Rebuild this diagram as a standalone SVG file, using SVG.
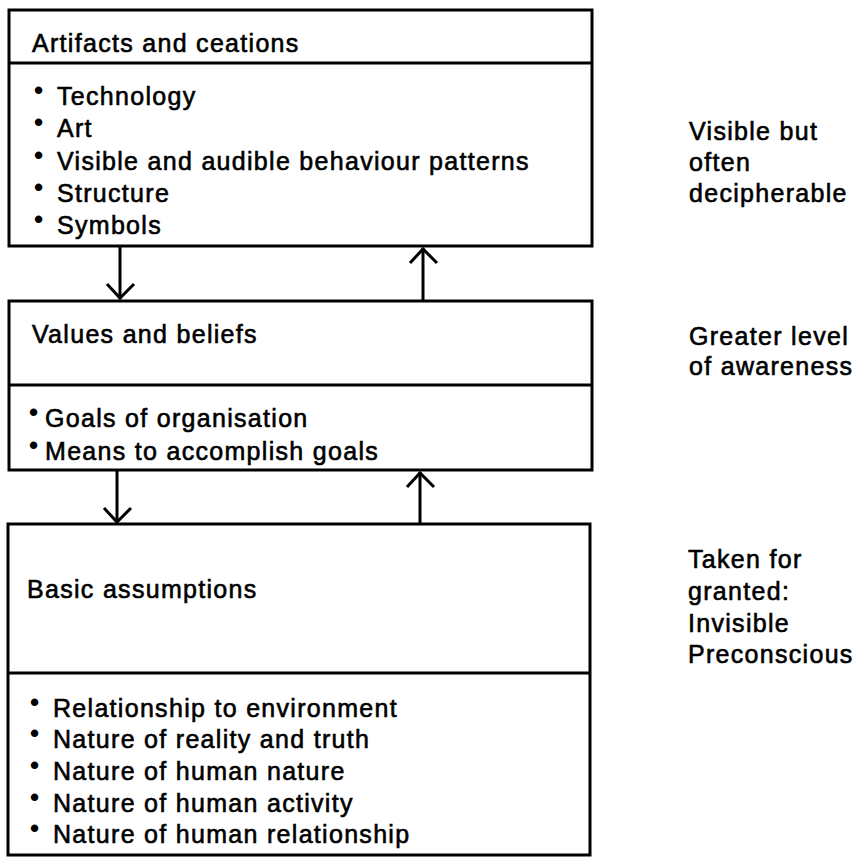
<svg xmlns="http://www.w3.org/2000/svg" width="854" height="858" viewBox="0 0 854 858">
  <style>
    .box { fill: none; stroke: #000; stroke-width: 3; }
    .div { stroke: #000; stroke-width: 3; }
    .t { font-family: "Liberation Sans", Arial, sans-serif; font-size: 25px; letter-spacing: 1.3px; fill: #000; stroke: #000; stroke-width: 0.6px; }
    .b { font-family: "Liberation Sans", Arial, sans-serif; font-size: 26px; font-weight: bold; fill: #000; }
    .wire { fill: none; stroke: #000; stroke-width: 3; }
  </style>
  <rect width="854" height="858" fill="#fff"/>

  <g id="artifacts">
    <rect class="box" x="9" y="10" width="583" height="236"/>
    <line class="div" x1="9" y1="63" x2="592" y2="63"/>
    <text class="t" x="32" y="52">Artifacts and ceations</text>
    <text class="b" x="34" y="99">•</text>
    <text class="b" x="34" y="131">•</text>
    <text class="b" x="34" y="164">•</text>
    <text class="b" x="34" y="196">•</text>
    <text class="b" x="34" y="228">•</text>
    <text class="t" x="57" y="105">Technology</text>
    <text class="t" x="57" y="137">Art</text>
    <text class="t" x="57" y="170">Visible and audible behaviour patterns</text>
    <text class="t" x="57" y="202">Structure</text>
    <text class="t" x="57" y="234">Symbols</text>
  </g>

  <g id="values">
    <rect class="box" x="9" y="301" width="583" height="169"/>
    <line class="div" x1="9" y1="385" x2="592" y2="385"/>
    <text class="t" x="32" y="343">Values and beliefs</text>
    <text class="b" x="29" y="421">•</text>
    <text class="b" x="29" y="454">•</text>
    <text class="t" x="45" y="427">Goals of organisation</text>
    <text class="t" x="45" y="460">Means to accomplish goals</text>
  </g>

  <g id="assumptions">
    <rect class="box" x="8" y="524" width="582" height="331"/>
    <line class="div" x1="8" y1="673" x2="590" y2="673"/>
    <text class="t" x="27" y="598">Basic assumptions</text>
    <text class="b" x="30" y="711">•</text>
    <text class="b" x="30" y="742">•</text>
    <text class="b" x="30" y="774">•</text>
    <text class="b" x="30" y="806">•</text>
    <text class="b" x="30" y="837">•</text>
    <text class="t" x="53" y="717">Relationship to environment</text>
    <text class="t" x="53" y="748">Nature of reality and truth</text>
    <text class="t" x="53" y="780">Nature of human nature</text>
    <text class="t" x="53" y="812">Nature of human activity</text>
    <text class="t" x="53" y="843">Nature of human relationship</text>
  </g>

  <g id="levels">
    <text class="t" x="689" y="140">Visible but</text>
    <text class="t" x="689" y="171">often</text>
    <text class="t" x="689" y="202">decipherable</text>
    <text class="t" x="689" y="345">Greater level</text>
    <text class="t" x="689" y="375">of awareness</text>
    <text class="t" x="688" y="568">Taken for</text>
    <text class="t" x="688" y="600">granted:</text>
    <text class="t" x="688" y="632">Invisible</text>
    <text class="t" x="688" y="663">Preconscious</text>
  </g>

  <g id="connectors">
    <!-- artifacts -> values -->
    <line class="wire" x1="120" y1="246" x2="120" y2="299"/>
    <polyline class="wire" points="107,284 120,298 134,284"/>
    <!-- values -> artifacts -->
    <line class="wire" x1="423" y1="301" x2="423" y2="248"/>
    <polyline class="wire" points="410,263 423,249 437,263"/>
    <!-- values -> assumptions -->
    <line class="wire" x1="117" y1="470" x2="117" y2="522"/>
    <polyline class="wire" points="104,508 117,522 131,508"/>
    <!-- assumptions -> values -->
    <line class="wire" x1="420" y1="524" x2="420" y2="472"/>
    <polyline class="wire" points="407,487 420,473 434,487"/>
  </g>
</svg>
